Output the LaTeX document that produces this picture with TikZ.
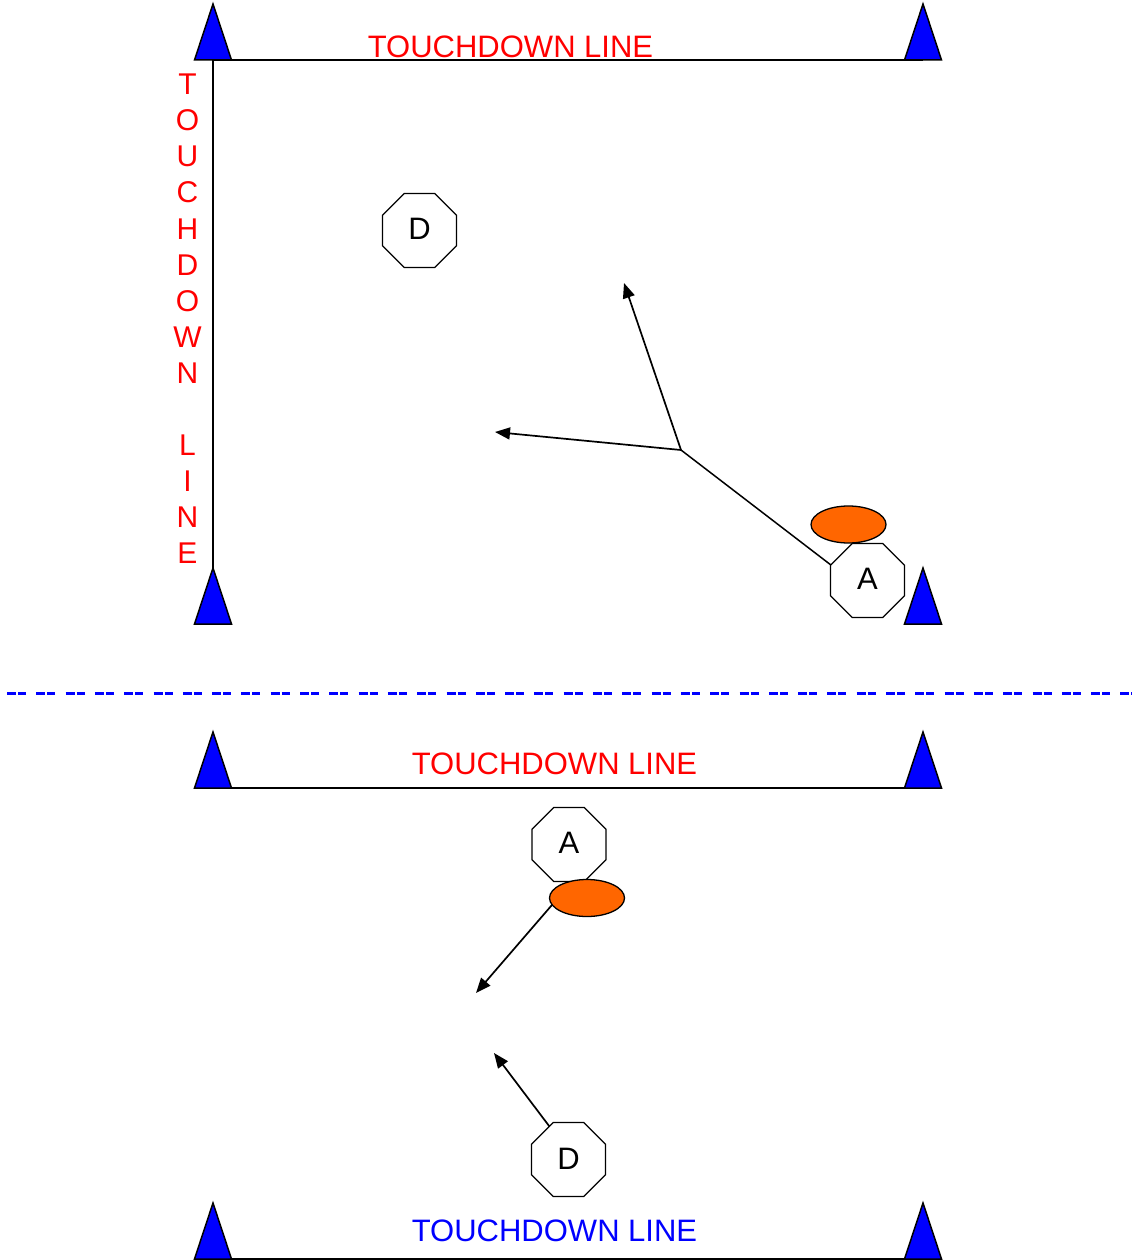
\documentclass[tikz,border=0pt]{standalone}
\usepackage{fontspec}
\setmainfont{Liberation Sans}
\usetikzlibrary{shapes.geometric,arrows.meta}
\definecolor{ballorange}{HTML}{FF6600}
\begin{document}
\begin{tikzpicture}[x=1pt,y=-1pt,
  field/.style={line width=1.5pt},
  player/.style={regular polygon, regular polygon sides=8, draw, line width=1.3pt,
    fill=white, minimum size=80pt, inner sep=0pt, outer sep=0pt,
    font=\fontsize{31}{36}\selectfont},
  ball/.style={ellipse, draw, line width=1.3pt, fill=ballorange,
    minimum width=75pt, minimum height=37pt, inner sep=0pt, outer sep=0pt},
  run/.style={line width=1.7pt, -{Triangle[length=15pt,width=12pt]}},
  fieldtext/.style={font=\fontsize{31}{36}\selectfont, anchor=base, inner sep=0pt},
  cone/.pic={\filldraw[fill=blue, line width=1.5pt, line join=miter]
    (-18.5,0) -- (0,-56) -- (18.5,0) -- cycle;}
]
\fill[white] (0,0) rectangle (1132,1260);
\useasboundingbox (0,0) rectangle (1132,1260);

% ---------- upper drill ----------
\coordinate (tl) at (213,60);
\coordinate (tr) at (923,60);
\coordinate (bl) at (213,624);
\coordinate (br) at (923,624);
\draw[field] (tl) -- (tr);
\draw[field] (tl) -- (bl);

\node[fieldtext, text=red] (td1) at (510.5,58) {TOUCHDOWN LINE};
\foreach \l/\i in {T/1,O/2,U/3,C/4,H/5,D/6,O/7,W/8,N/9,L/11,I/12,N/13,E/14}
  \node[fieldtext, text=red, font=\fontsize{30}{36}\selectfont] (v\i) at (187.5,{59+36*\i}) {\l};

\pic at (tl) {cone};
\pic at (tr) {cone};
\pic at (bl) {cone};
\pic at (br) {cone};

\node[player] (D1) at (419.5,230.5) {\raisebox{3pt}{D}};
\node[player] (A1) at (867.5,580.5) {\raisebox{3pt}{A}};
\node[ball] (B1) at (848.5,524.5) {};

\coordinate (J) at (681,450);
\coordinate (T1) at (495,432);
\coordinate (T2) at (624,283);
\draw[field] (A1.157.5) -- (J);
\draw[run] (J) -- (T1);
\draw[run] (J) -- (T2);

% ---------- separator ----------
\coordinate (s1) at (7,693);
\coordinate (s2) at (1132,693);
\draw[blue, line width=3pt, dash pattern=on 9pt off 2pt on 8pt off 10.3pt] (s1) -- (s2);

% ---------- lower drill ----------
\coordinate (ul) at (213,788);
\coordinate (ur) at (923,788);
\coordinate (ll) at (213,1259);
\coordinate (lr) at (923,1259);
\draw[field] (ul) -- (ur);
\draw[field] (ll) -- (lr);

\node[fieldtext, text=red] (td2) at (554.5,774) {TOUCHDOWN LINE};
\node[fieldtext, text=blue] (td3) at (554.5,1241) {TOUCHDOWN LINE};

\pic at (ul) {cone};
\pic at (ur) {cone};
\pic at (ll) {cone};
\pic at (lr) {cone};

\node[player] (A2) at (569,844.5) {\raisebox{3pt}{A}};
\node[ball] (B2) at (587,898) {};
\node[player] (D2) at (568.5,1159.5) {\raisebox{1pt}{D}};

\coordinate (T3) at (476,993);
\coordinate (T4) at (494,1053);
\draw[run] (B2.191) -- (T3);
\draw[run] (D2.120) -- (T4);
\end{tikzpicture}
\end{document}
